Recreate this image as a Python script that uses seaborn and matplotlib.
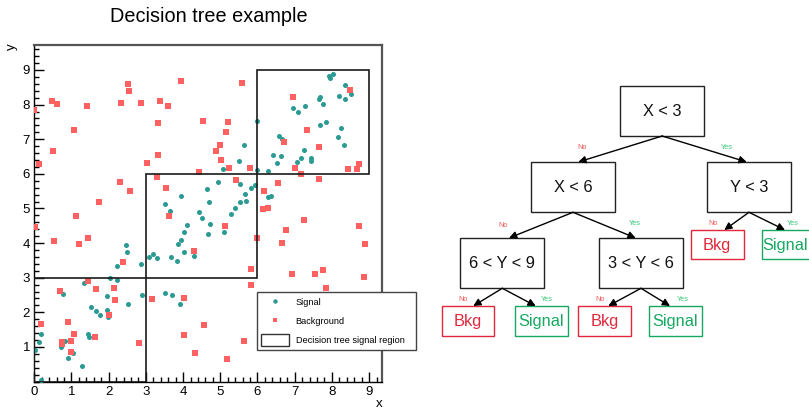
import matplotlib
matplotlib.use("Agg")
import matplotlib.pyplot as plt
import pandas as pd
import seaborn as sns
from matplotlib.patches import Rectangle, Patch
from matplotlib.lines import Line2D
from matplotlib.ticker import MultipleLocator

# ---------------- data ----------------
sig_x = [7.91, 7.96, 8.03, 8.34, 8.52, 8.20, 8.36, 7.67, 7.65, 7.76, 7.27, 6.96, 7.10, 7.83, 7.68,
         8.25, 8.16, 8.33, 6.59, 6.66, 7.25, 6.41, 6.63, 7.18, 7.43, 7.44, 7.05, 6.52, 6.29, 6.00,
         5.98, 5.65, 5.50, 5.08,
         4.93, 5.54, 5.82, 5.94, 5.67, 6.27, 6.37, 4.64, 3.94, 4.70, 5.54, 5.68, 5.40, 5.30, 4.43,
         4.50, 4.10, 4.72, 4.02, 5.10, 4.68, 3.95, 4.03, 4.29, 3.52, 3.64, 3.86, 3.67, 3.83, 3.18,
         3.07, 3.31, 2.47, 2.48, 2.21, 2.88, 2.04,
         2.23, 1.33, 0.76, 1.96, 2.90, 3.52, 3.71, 3.93, 2.53, 1.52, 1.66, 1.95, 1.77, 1.97, 0.19,
         0.12, 0.03, 1.44, 1.48, 0.83, 0.71, 0.90, 1.05, 1.28, 0.19]
sig_y = [8.83, 8.77, 8.89, 8.56, 8.32, 8.24, 8.16, 8.21, 8.15, 8.02, 7.96, 7.90, 7.79, 7.50, 7.41,
         7.33, 7.06, 6.83, 7.10, 7.01, 6.69, 6.55, 6.51, 6.47, 6.45, 6.36, 6.33, 6.32, 6.08, 6.11,
         7.53, 6.83, 6.38, 6.13,
         5.77, 5.71, 5.59, 5.68, 5.42, 5.33, 5.36, 5.57, 5.35, 5.19, 5.18, 5.21, 5.01, 4.85, 4.89,
         4.72, 4.51, 4.56, 4.32, 4.33, 4.26, 4.10, 3.75, 3.63, 5.13, 4.92, 3.97, 3.61, 3.48, 3.69,
         3.59, 3.56, 3.94, 3.75, 3.34, 3.40, 2.98,
         2.92, 2.84, 2.53, 2.48, 2.50, 2.56, 2.50, 2.24, 2.24, 2.14, 2.05, 2.06, 1.92, 1.85, 1.36,
         1.15, 0.91, 1.36, 1.30, 1.17, 1.00, 0.69, 0.82, 0.45, 0.04]

bkg_x = [0.00, 0.48, 0.62, 0.51, 0.12, 1.07, 1.41, 2.33, 2.51, 2.54, 2.87, 3.03, 3.33, 3.33, 3.38,
         3.59, 3.94,
         5.59, 4.54, 5.20, 5.16, 5.00, 4.88, 5.01, 5.23, 5.80, 6.95, 7.34, 6.71, 7.65, 8.48, 8.72,
         7.00, 8.44, 8.67,
         4.42, 7.18, 7.65, 6.54, 5.41, 6.17, 6.15, 6.29, 7.26, 6.77, 6.67, 8.72, 8.88, 6.00, 5.13,
         4.28, 5.82, 6.93, 7.55, 7.77, 8.85,
         3.31, 3.53, 2.31, 2.56, 1.73, 1.12, 0.03, 0.54, 1.19, 1.45, 3.62, 2.39,
         1.44, 0.69, 1.65, 2.15, 2.18, 3.16, 4.02, 0.19, 0.91, 2.00, 1.08, 1.63, 0.75, 0.74, 0.98,
         0.98, 2.81, 4.02, 4.32,
         5.82, 7.85, 4.57, 5.64, 5.19]
bkg_y = [7.84, 8.10, 8.02, 6.65, 6.29, 7.26, 7.97, 8.04, 8.60, 8.40, 8.04, 6.30, 7.48, 6.54, 8.11,
         7.96, 8.69,
         8.62, 7.52, 7.49, 7.22, 6.84, 6.66, 6.39, 6.16, 6.18, 8.22, 7.27, 6.91, 6.78, 8.41, 6.28,
         6.16, 6.14, 6.14,
         6.06, 5.99, 5.84, 5.74, 5.81, 5.49, 4.98, 5.01, 4.68, 4.37, 3.99, 4.48, 3.97, 4.14, 4.49,
         3.77, 3.25, 3.11, 3.10, 3.23, 3.01,
         5.91, 5.59, 5.75, 5.49, 5.19, 4.79, 4.46, 4.07, 3.96, 4.14, 4.78, 3.44,
         2.90, 2.61, 2.66, 2.69, 2.36, 2.38, 2.40, 1.65, 1.73, 1.91, 1.36, 1.28, 1.14, 1.08, 1.16,
         0.84, 1.10, 1.34, 0.81,
         2.78, 2.69, 1.64, 1.18, 0.65]

# signal regions selected by the tree (lower-left corners, common side length)
region_x0 = [0, 3, 6]
region_y0 = [0, 3, 6]
region_side = 3

x_ticks = [0, 1, 2, 3, 4, 5, 6, 7, 8, 9]
y_ticks = [1, 2, 3, 4, 5, 6, 7, 8, 9]

legend_labels = ["Signal", "Background", "Decision tree signal region"]

node_labels = ["X < 3", "X < 6", "Y < 3", "6 < Y < 9", "3 < Y < 6"]
leaf_labels = ["Bkg", "Signal", "Bkg", "Signal", "Bkg", "Signal"]
branch_labels = ["No", "Yes"]

# ---------------- style ----------------
SIG_COLOR = "#2a9a92"
BKG_COLOR = "#ff6161"
RED = "#e0283a"
GREEN = "#17a862"
RED_LIGHT = "#f05a5a"
GREEN_LIGHT = "#3cc87a"

W, H = 809, 411
plt.rcParams["font.family"] = ["Liberation Sans", "DejaVu Sans"]

fig = plt.figure(figsize=(W / 100, H / 100), dpi=100)

# scatter axes placed in pixel units
ax_l, ax_r, ax_t, ax_b = 34.3, 382.3, 44.7, 381.5
ax = fig.add_axes([ax_l / W, (H - ax_b) / H, (ax_r - ax_l) / W, (ax_b - ax_t) / H])

df = pd.DataFrame({
    "x": sig_x + bkg_x,
    "y": sig_y + bkg_y,
    "cls": ["Signal"] * len(sig_x) + ["Background"] * len(bkg_x),
})
sns.scatterplot(data=df[df.cls == "Signal"], x="x", y="y", color=SIG_COLOR,
                marker="o", s=13, linewidth=0, ax=ax, legend=False, zorder=3)
sns.scatterplot(data=df[df.cls == "Background"], x="x", y="y", color=BKG_COLOR,
                marker="s", s=13, linewidth=0, ax=ax, legend=False, zorder=3)

for x0, y0 in zip(region_x0, region_y0):
    ax.add_patch(Rectangle((x0, y0), region_side, region_side, fill=False,
                           edgecolor="#1a1a1a", linewidth=1.2, zorder=4))

ax.set_xlim(0, 9.355)
ax.set_ylim(0, 9.73)
ax.set_xticks(x_ticks)
ax.set_yticks(y_ticks)
ax.xaxis.set_minor_locator(MultipleLocator(0.2))
ax.yaxis.set_minor_locator(MultipleLocator(0.2))
ax.tick_params(which="both", direction="in", top=False, right=False, width=1.0,
               color="black", labelsize=9.5)
ax.tick_params(which="major", length=7.5, pad=3)
ax.tick_params(which="minor", length=3.6)
ax.set_xlabel("")
ax.set_ylabel("")
for side in ["left", "bottom"]:
    ax.spines[side].set_color("black")
    ax.spines[side].set_linewidth(1.0)
for side in ["top", "right"]:
    ax.spines[side].set_color("#555555")
    ax.spines[side].set_linewidth(1.6)

fig.text(11.5 / W, 1 - 47 / H, "y", rotation=90, ha="center", va="center", fontsize=9.5)
fig.text(379 / W, 1 - 404 / H, "x", ha="center", va="center", fontsize=9.5)
fig.text(208.8 / W, 1 - 16.5 / H, "Decision tree example", ha="center", va="center",
         fontsize=14.3)

handles = [
    Line2D([], [], ls="", marker="o", color=SIG_COLOR, markersize=3.2, markeredgewidth=0),
    Line2D([], [], ls="", marker="s", color=BKG_COLOR, markersize=3.2, markeredgewidth=0),
    Patch(facecolor="white", edgecolor="#333333", linewidth=1.0),
]
leg_l, leg_t, leg_r = 257.3, 292.3, 415.7
leg = ax.legend(handles, legend_labels, loc="upper left",
                bbox_to_anchor=(leg_l / W, 1 - leg_t / H, (leg_r - leg_l) / W, 0),
                bbox_transform=fig.transFigure, mode="expand", borderaxespad=0,
                frameon=True, fancybox=False, framealpha=1, edgecolor="#444444",
                fontsize=6.6, handlelength=3.0, handleheight=1.66, handletextpad=0.73,
                labelspacing=0.72, borderpad=0.45)
leg.get_frame().set_linewidth(1.0)
leg.set_zorder(10)

# ---------------- decision tree diagram (pixel coordinates) ----------------
tx0 = 430
tax = fig.add_axes([tx0 / W, 0, (W - tx0) / W, 1])
tax.set_xlim(tx0, W)
tax.set_ylim(H, 0)
tax.axis("off")

node_boxes = [(620.0, 86.0, 704.3, 136.0),
              (531.0, 162.3, 615.0, 212.3),
              (706.7, 162.3, 790.7, 212.3),
              (460.0, 238.3, 544.3, 288.3),
              (599.3, 238.3, 683.3, 288.3)]
leaf_boxes = [(441.7, 306.3, 494.3, 335.7),
              (515.3, 306.3, 567.7, 335.7),
              (578.3, 306.3, 630.7, 335.7),
              (649.0, 306.3, 701.7, 335.7),
              (690.7, 230.3, 743.7, 259.3),
              (761.7, 230.3, 814.3, 259.3)]

for (x0, y0, x1, y1), label in zip(node_boxes, node_labels):
    tax.add_patch(Rectangle((x0, y0), x1 - x0, y1 - y0, facecolor="white",
                            edgecolor="#222222", linewidth=1.0))
    tax.text((x0 + x1) / 2, (y0 + y1) / 2 + 0.5, label, ha="center", va="center",
             fontsize=11.8, color="#111111")

for (x0, y0, x1, y1), label in zip(leaf_boxes, leaf_labels):
    col = RED if label == "Bkg" else GREEN
    tax.add_patch(Rectangle((x0, y0), x1 - x0, y1 - y0, facecolor="white",
                            edgecolor=col, linewidth=1.0))
    # keep the label inside the canvas when the box runs past the right edge
    cx = min((x0 + x1) / 2, W - 24)
    tax.text(cx, (y0 + y1) / 2 + 0.5, label, ha="center", va="center",
             fontsize=11.8, color=col)

# (start, end, branch index, label position)
edges = [
    ((662.2, 136.0), (578.3, 162.0), 0, (581.7, 147.3)),
    ((662.2, 136.0), (746.7, 162.0), 1, (727.3, 147.3)),
    ((573.0, 212.3), (509.0, 238.0), 0, (502.7, 225.0)),
    ((573.0, 212.3), (635.7, 238.0), 1, (635.3, 223.0)),
    ((749.0, 212.3), (724.3, 230.0), 0, (712.7, 223.0)),
    ((749.0, 212.3), (785.0, 230.0), 1, (792.7, 223.0)),
    ((502.3, 288.3), (473.3, 306.0), 0, (463.3, 299.0)),
    ((502.3, 288.3), (535.7, 306.0), 1, (546.7, 299.0)),
    ((641.0, 288.3), (608.3, 306.0), 0, (600.0, 299.0)),
    ((641.0, 288.3), (670.0, 306.0), 1, (682.7, 299.0)),
]
for start, end, b, (lx, ly) in edges:
    tax.annotate("", xy=end, xytext=start,
                 arrowprops=dict(arrowstyle="-|>", color="black", lw=1.0,
                                 mutation_scale=11, shrinkA=0, shrinkB=0))
    tax.text(lx, ly, branch_labels[b], ha="center", va="center", fontsize=5.3,
             color=RED_LIGHT if b == 0 else GREEN_LIGHT)

fig.savefig("out.png", dpi=100)
